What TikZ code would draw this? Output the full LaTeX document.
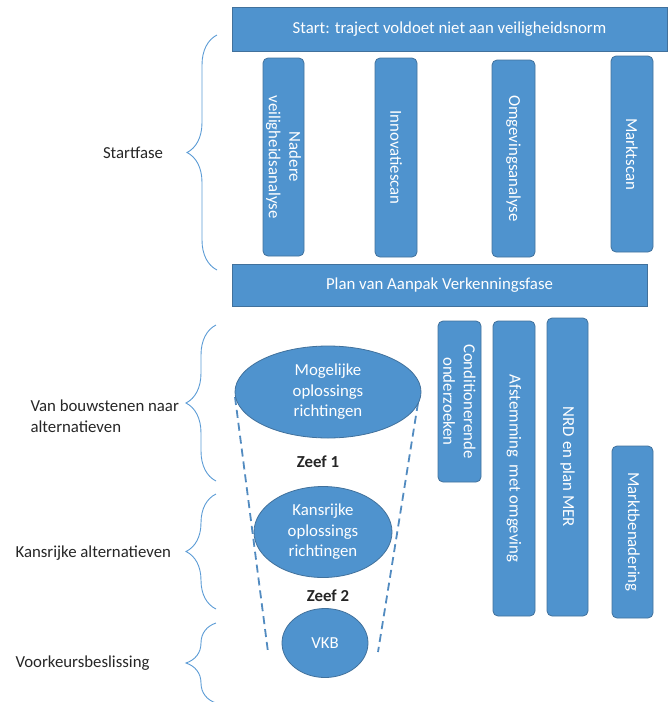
\documentclass[tikz,border=0pt]{standalone}
\usepackage{fontspec}
\setmainfont{Carlito}
\usepackage{xcolor}
\usepackage{tikz}
\usetikzlibrary{positioning,shapes,shapes.geometric,decorations.pathreplacing}
\definecolor{boxfill}{HTML}{4F93CE}
\definecolor{boxline}{HTML}{41719C}
\definecolor{bracecol}{HTML}{5B9BD5}
\definecolor{labeltext}{HTML}{262626}
\tikzset{
    bar/.style={rectangle, draw=boxline, fill=boxfill, line width=0.8pt, text=white, align=center, inner sep=2pt, font=\fontsize{16.8}{20.5}\selectfont},
    column/.style={bar, rounded corners=5pt, rotate=-90},
    blob/.style={ellipse, draw=boxline, fill=boxfill, line width=0.8pt, text=white, align=center, inner sep=0pt, font=\fontsize{16.8}{20.5}\selectfont},
    phasebrace/.style={decorate, decoration={brace, amplitude=30pt, aspect=0.5}, draw=bracecol, line width=0.9pt},
    phaselabel/.style={text=labeltext, align=left, font=\fontsize{16.8}{20.5}\selectfont},
    sieve/.style={text=labeltext, font=\fontsize{16.8}{20.5}\selectfont\bfseries},
    funnel/.style={draw=bracecol!90!black, line width=1.8pt, dash pattern=on 8pt off 5pt}
}
\begin{document}
\begin{tikzpicture}[x=1pt, y=-1pt]
\useasboundingbox (0,0) rectangle (669,702);

% Startfase
\node[bar, minimum width=435pt, minimum height=44pt] (start) at (449.5,29) {Start: traject voldoet niet aan veiligheidsnorm};
\node[column, minimum width=198pt, minimum height=41pt] (nadere) at (283.5,157) {Nadere\\veiligheidsanalyse};
\node[column, minimum width=199pt, minimum height=42pt] (innovatie) at (396,157.5) {Innovatiescan};
\node[column, minimum width=197pt, minimum height=43pt] (omgeving) at (513.5,158.5) {Omgevingsanalyse};
\node[column, minimum width=196pt, minimum height=42pt] (marktscan) at (632,154) {Marktscan};
\node[bar, minimum width=415pt, minimum height=42pt] (plan) at (439.5,285) {Plan van Aanpak Verkenningsfase};

% Parallel tracks
\node[column, minimum width=161pt, minimum height=43pt] (cond) at (459.5,401.5) {Conditionerende\\onderzoeken};
\node[column, minimum width=295pt, minimum height=42pt] (afstem) at (514,468.5) {Afstemming~ met omgeving};
\node[column, minimum width=298pt, minimum height=41pt] (nrd) at (567.5,467) {NRD en plan MER};
\node[column, minimum width=172pt, minimum height=41pt] (marktben) at (632.5,532) {Marktbenadering};

% Funnel
\coordinate (funnelLtop) at (235,397);
\coordinate (funnelLbot) at (268,652);
\coordinate (funnelRtop) at (418,403);
\coordinate (funnelRbot) at (378,652);
\draw[funnel] (funnelLtop) -- (funnelLbot);
\draw[funnel] (funnelRtop) -- (funnelRbot);

\node[blob, minimum width=186pt, minimum height=92pt] (mogelijk) at (328,392) {Mogelijke\\oplossings\\richtingen};
\node[sieve] (zeef1) at (318,462) {Zeef 1};
\node[blob, minimum width=138pt, minimum height=91pt] (kansrijk) at (323,532) {Kansrijke\\oplossings\\richtingen};
\node[sieve] (zeef2) at (328,596) {Zeef 2};
\node[blob, minimum width=86pt, minimum height=69pt] (vkb) at (325,643) {VKB};

% Phase braces
\coordinate (b1bot) at (217,270);
\coordinate (b1top) at (217,35);
\coordinate (b2bot) at (216,481);
\coordinate (b2top) at (216,325);
\coordinate (b3bot) at (216,609);
\coordinate (b3top) at (216,494);
\coordinate (b4bot) at (216,703);
\coordinate (b4top) at (216,623);
\draw[phasebrace] (b1bot) -- (b1top);
\draw[phasebrace] (b2bot) -- (b2top);
\draw[phasebrace] (b3bot) -- (b3top);
\draw[phasebrace] (b4bot) -- (b4top);

\node[phaselabel] (startfase) at (133,153) {Startfase};
\node[phaselabel, anchor=west] (bouwstenen) at (27,416) {Van bouwstenen naar\\alternatieven};
\node[phaselabel, anchor=west] (kansalt) at (12,553) {Kansrijke alternatieven};
\node[phaselabel, anchor=west] (voorkeur) at (12,663) {Voorkeursbeslissing};

\end{tikzpicture}
\end{document}
